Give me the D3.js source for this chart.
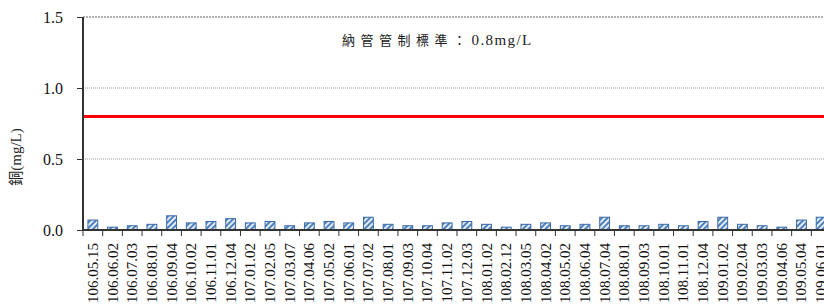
<!DOCTYPE html>
<html>
<head>
<meta charset="utf-8">
<script src="https://cdn.jsdelivr.net/npm/d3@7"></script>
<style>
  body { margin: 0; background: #fff; }
  svg text { font-family: 'Liberation Serif', 'DejaVu Serif', serif; }
</style>
</head>
<body>
<div id="chart"></div>
<script>
// sampling dates (ROC calendar)
const dates = [
  '106.05.15', '106.06.02', '106.07.03', '106.08.01', '106.09.04', '106.10.02',
  '106.11.01', '106.12.04', '107.01.02', '107.02.05', '107.03.07', '107.04.06',
  '107.05.02', '107.06.01', '107.07.02', '107.08.01', '107.09.03', '107.10.04',
  '107.11.02', '107.12.03', '108.01.02', '108.02.12', '108.03.05', '108.04.02',
  '108.05.02', '108.06.04', '108.07.04', '108.08.01', '108.09.03', '108.10.01',
  '108.11.01', '108.12.04', '109.01.02', '109.02.04', '109.03.03', '109.04.06',
  '109.05.04', '109.06.01'
];

// copper concentration (mg/L)
const copper = [
  0.07, 0.02, 0.03, 0.04, 0.10, 0.05, 0.06, 0.08, 0.05, 0.06,
  0.03, 0.05, 0.06, 0.05, 0.09, 0.04, 0.03, 0.03, 0.05, 0.06,
  0.04, 0.02, 0.04, 0.05, 0.03, 0.04, 0.09, 0.03, 0.03, 0.04,
  0.03, 0.06, 0.09, 0.04, 0.03, 0.02, 0.07, 0.09
];

const yTicks = [0, 0.5, 1.0, 1.5];
const limit = 0.8;
const limitLabel = '納管管制標準：';
const limitValue = '0.8mg/L';

const W = 824, H = 304;
const margin = { top: 17, right: -7, bottom: 74, left: 83 };
const innerW = W - margin.left - margin.right;
const innerH = H - margin.top - margin.bottom;

const serif = "'Liberation Serif', 'DejaVu Serif', serif";
const cjk = "'Noto Sans CJK TC', 'Noto Sans CJK SC', sans-serif";

const svg = d3.select('#chart')
  .append('svg')
  .attr('width', W)
  .attr('height', H);

// hatch pattern for bars
const defs = svg.append('defs');
const pat = defs.append('pattern')
  .attr('id', 'hatch')
  .attr('patternUnits', 'userSpaceOnUse')
  .attr('width', 4)
  .attr('height', 4)
  .attr('patternTransform', 'rotate(45)');
pat.append('rect').attr('width', 4).attr('height', 4).attr('fill', '#e4ecf8');
pat.append('rect').attr('width', 2).attr('height', 4).attr('fill', '#4f81bd');

const g = svg.append('g')
  .attr('transform', `translate(${margin.left},${margin.top})`);

const x = d3.scaleBand()
  .domain(dates)
  .range([0, innerW])
  .paddingInner(0.5)
  .paddingOuter(0.25);

const y = d3.scaleLinear()
  .domain([0, 1.5])
  .range([innerH, 0]);

// grid lines
g.selectAll('.grid')
  .data(yTicks.filter(d => d > 0))
  .enter()
  .append('line')
  .attr('class', 'grid')
  .attr('x1', 0)
  .attr('x2', innerW)
  .attr('y1', d => y(d))
  .attr('y2', d => y(d))
  .attr('stroke', d => d === 1.5 ? '#666' : '#999')
  .attr('stroke-width', 1)
  .attr('stroke-dasharray', d => d === 1.5 ? '2,1' : '1,1');

// bars
g.selectAll('.bar')
  .data(copper)
  .enter()
  .append('rect')
  .attr('class', 'bar')
  .attr('x', (d, i) => x(dates[i]))
  .attr('y', d => y(d))
  .attr('width', x.bandwidth())
  .attr('height', d => innerH - y(d))
  .attr('fill', 'url(#hatch)')
  .attr('stroke', '#3a6aa8')
  .attr('stroke-width', 1);

// limit line
g.append('line')
  .attr('x1', 0)
  .attr('x2', innerW)
  .attr('y1', y(limit))
  .attr('y2', y(limit))
  .attr('stroke', '#ff0000')
  .attr('stroke-width', 3);

// limit annotation
const note = g.append('text')
  .attr('x', 259)
  .attr('y', y(1.5) + 28)
  .attr('font-family', serif)
  .attr('font-size', 15)
  .attr('fill', '#222');
note.append('tspan')
  .attr('font-family', cjk)
  .attr('font-size', 13)
  .attr('letter-spacing', 5.5)
  .text(limitLabel);
note.append('tspan')
  .attr('letter-spacing', 1.4)
  .text(limitValue);

// y axis
const yAxis = g.append('g')
  .call(d3.axisLeft(y)
    .tickValues(yTicks)
    .tickSize(6)
    .tickPadding(14)
    .tickFormat(d3.format('.1f')));
yAxis.attr('font-family', serif);
yAxis.select('.domain').attr('stroke', '#333').attr('stroke-width', 2).attr('d', `M0,${innerH}V0`);
yAxis.selectAll('.tick line').attr('stroke', '#333');
yAxis.selectAll('.tick text')
  .attr('font-size', 16)
  .attr('font-family', serif)
  .attr('fill', '#111');

// x axis
const step = x.step();
const xAxis = g.append('g')
  .attr('transform', `translate(0,${innerH})`);
xAxis.append('line')
  .attr('x1', 0).attr('x2', innerW)
  .attr('stroke', '#333').attr('stroke-width', 2);
xAxis.selectAll('.xtick')
  .data(dates)
  .enter()
  .append('line')
  .attr('class', 'xtick')
  .attr('x1', d => x(d) - step * 0.25)
  .attr('x2', d => x(d) - step * 0.25)
  .attr('y1', 0)
  .attr('y2', 6)
  .attr('stroke', '#333');
xAxis.selectAll('.xlabel')
  .data(dates)
  .enter()
  .append('text')
  .attr('class', 'xlabel')
  .attr('transform', d => `translate(${x(d) + x.bandwidth() / 2 + 5},13) rotate(-90)`)
  .attr('text-anchor', 'end')
  .attr('font-family', serif)
  .attr('font-size', 15)
  .attr('fill', '#111')
  .text(d => d);

// y label
svg.append('text')
  .attr('transform', `translate(21,157) rotate(-90)`)
  .attr('text-anchor', 'middle')
  .attr('font-size', 15)
  .attr('fill', '#222')
  .selectAll('tspan')
  .data([['銅', cjk], ['(mg/L)', serif]])
  .enter()
  .append('tspan')
  .attr('font-family', d => d[1])
  .text(d => d[0]);
</script>
</body>
</html>
